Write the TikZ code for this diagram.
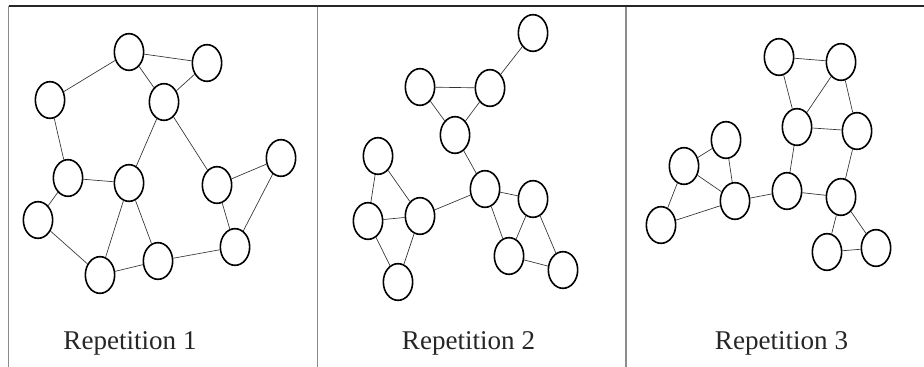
\documentclass[tikz,border=0pt]{standalone}
\usepackage{fontspec}
\setmainfont{Liberation Serif}
\usetikzlibrary{shapes.geometric}
\begin{document}
\begin{tikzpicture}[x=0.75pt,y=-0.75pt,
  vtx/.style={draw=black,ellipse,line width=1.2pt,minimum width=22pt,minimum height=27.5pt,inner sep=0pt,fill=white},
  edge/.style={draw=black!80,line width=0.5pt},
  frametop/.style={draw=black!85,line width=0.9pt},
  framev/.style={draw=black!45,line width=1.2pt},
  lbl/.style={font=\fontsize{20.3pt}{24pt}\selectfont,text=black!85,anchor=base,inner sep=0pt}]
\useasboundingbox (0,0) rectangle (924,367);
% frame
\coordinate (t0) at (8.5,6); \coordinate (t1) at (924,6);
\coordinate (v1a) at (8.5,6); \coordinate (v1b) at (8.5,367);
\coordinate (v2a) at (317.5,6); \coordinate (v2b) at (317.5,367);
\coordinate (v3a) at (625.7,6); \coordinate (v3b) at (625.7,367);
\draw[framev] (v1a) -- (v1b);
\draw[framev] (v2a) -- (v2b);
\draw[framev] (v3a) -- (v3b);
\draw[frametop] (t0) -- (t1);
% panel 1
\node[vtx] (A) at (129,52) {};
\node[vtx] (B) at (207,63) {};
\node[vtx] (C) at (50,100) {};
\node[vtx] (D) at (164,102) {};
\node[vtx] (E) at (281,158) {};
\node[vtx] (F) at (68,178) {};
\node[vtx] (G) at (129,183) {};
\node[vtx] (H) at (217,185) {};
\node[vtx] (I) at (38,220) {};
\node[vtx] (J) at (235,247) {};
\node[vtx] (K) at (158,261) {};
\node[vtx] (L) at (100,275) {};
\foreach \u/\v in {A/B,A/C,A/D,B/D,C/F,D/G,D/H,F/G,F/I,G/L,G/K,I/L,L/K,K/J,H/E,H/J,E/J}
  \draw[edge] (\u) -- (\v);
\node[lbl] (L1) at (130,349) {Repetition 1};
% panel 2
\node[vtx] (a) at (533,33) {};
\node[vtx] (b) at (420,87) {};
\node[vtx] (c) at (490,88) {};
\node[vtx] (d) at (455,135) {};
\node[vtx] (e) at (378,156) {};
\node[vtx] (f) at (485,189) {};
\node[vtx] (g) at (533,199) {};
\node[vtx] (h) at (368,221) {};
\node[vtx] (i) at (420,216) {};
\node[vtx] (j) at (509,256) {};
\node[vtx] (k) at (563,270) {};
\node[vtx] (l) at (398,282) {};
\foreach \u/\v in {a/c,b/c,b/d,c/d,d/f,f/g,f/j,f/i,g/j,g/k,j/k,e/h,e/i,h/i,h/l,i/l}
  \draw[edge] (\u) -- (\v);
\node[lbl] (L2) at (468.5,349) {Repetition 2};
% panel 3
\node[vtx] (p1) at (779,57) {};
\node[vtx] (p2) at (841,62) {};
\node[vtx] (p3) at (797,127) {};
\node[vtx] (p4) at (857,131) {};
\node[vtx] (p5) at (726,140) {};
\node[vtx] (p6) at (684,166) {};
\node[vtx] (p7) at (787,191) {};
\node[vtx] (p8) at (735,201) {};
\node[vtx] (p9) at (841,197) {};
\node[vtx] (p10) at (661,225) {};
\node[vtx] (p11) at (827,252) {};
\node[vtx] (p12) at (876,248) {};
\foreach \u/\v in {p1/p2,p1/p3,p2/p3,p2/p4,p3/p4,p3/p7,p4/p9,p7/p9,p7/p8,p8/p5,p8/p6,p5/p6,p6/p10,p10/p8,p9/p11,p9/p12,p11/p12}
  \draw[edge] (\u) -- (\v);
\node[lbl] (L3) at (781.5,349) {Repetition 3};
\end{tikzpicture}
\end{document}
